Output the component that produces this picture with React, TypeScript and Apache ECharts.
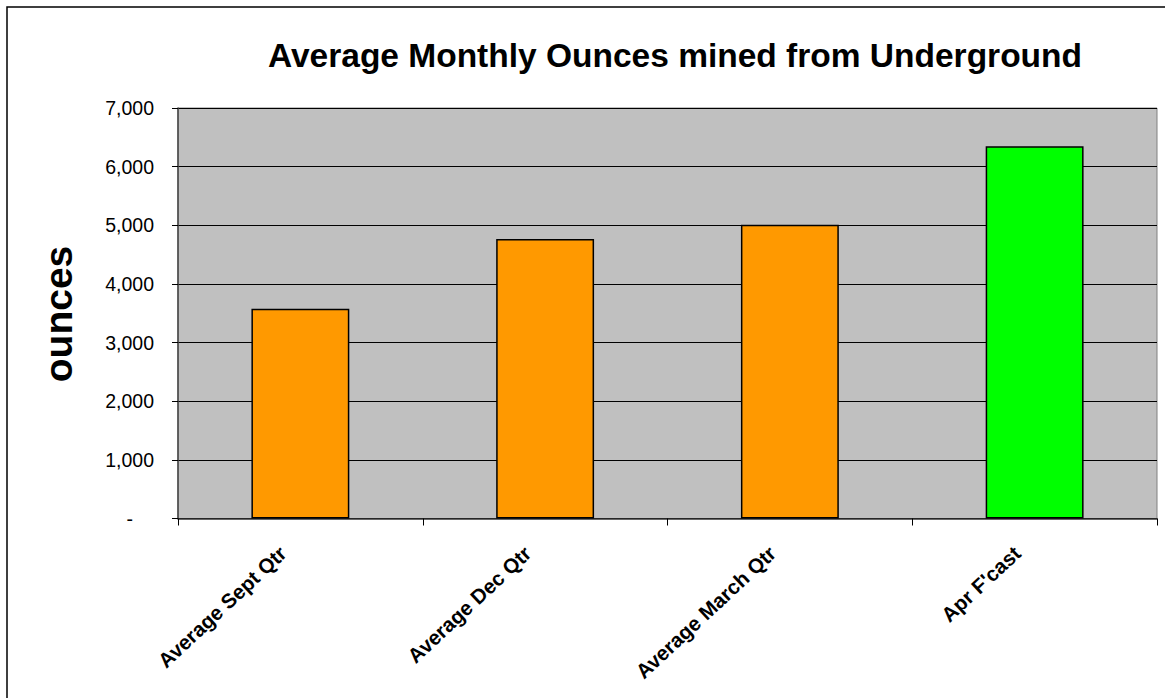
import React, { useEffect, useRef } from "react";
import * as echarts from "echarts";

const categories = ["Average Sept Qtr", "Average Dec Qtr", "Average March Qtr", "Apr F'cast"];
const ounces = [3577, 4765, 5010, 6348];
const barColors = ["#FF9900", "#FF9900", "#FF9900", "#00FF00"];
const titleText = "Average Monthly Ounces mined from Underground";
const yAxisTitle = "ounces";

export default function App() {
  const ref = useRef<HTMLDivElement>(null);
  useEffect(() => {
    if (!ref.current) return;
    const chart = echarts.init(ref.current, undefined, { renderer: "svg" });
    chart.setOption({
      animation: false,
      backgroundColor: "#FFFFFF",
      textStyle: { fontFamily: "Liberation Sans, Arial, sans-serif" },
      grid: {
        left: 178,
        right: 8,
        top: 108,
        bottom: 179.5,
        show: true,
        backgroundColor: "#C0C0C0",
        borderColor: "#808080",
        borderWidth: 1,
      },
      graphic: [
        {
          type: "rect",
          shape: { x: 7, y: 7, width: 1300, height: 900 },
          style: { fill: "none", stroke: "#000000", lineWidth: 1.5 },
          silent: true,
        },
        {
          type: "text",
          x: 675,
          y: 55.5,
          style: {
            text: titleText,
            fontSize: 33.5,
            fontWeight: "bold",
            fontFamily: "Liberation Sans, Arial, sans-serif",
            fill: "#000",
            textAlign: "center",
            textVerticalAlign: "middle",
          },
        },
        {
          type: "text",
          x: 58,
          y: 314,
          rotation: Math.PI / 2,
          style: {
            text: yAxisTitle,
            fontSize: 39,
            fontWeight: "bold",
            fontFamily: "Liberation Sans, Arial, sans-serif",
            fill: "#000",
            textAlign: "center",
            textVerticalAlign: "middle",
          },
        },
      ],
      xAxis: {
        type: "category",
        data: categories,
        boundaryGap: true,
        axisLine: { lineStyle: { color: "#333", width: 1.5 } },
        axisTick: { show: true, alignWithLabel: false, length: 7, lineStyle: { color: "#000", width: 1 } },
        axisLabel: {
          rotate: 43,
          interval: 0,
          margin: 15,
          fontSize: 20.5,
          fontWeight: "bold",
          color: "#000",
          padding: [0, 24, 0, 0],
        },
        splitLine: { show: false },
      },
      yAxis: {
        type: "value",
        min: 0,
        max: 7000,
        interval: 1000,
        axisLine: { show: true, lineStyle: { color: "#444", width: 1.5 } },
        axisTick: { show: true, length: 6, lineStyle: { color: "#000", width: 1 } },
        axisLabel: {
          margin: 24,
          fontSize: 19.5,
          color: "#000",
          formatter: (v: number) => (v === 0 ? "{d|-}" : v.toLocaleString("en-US")),
          rich: { d: { fontSize: 19.5, color: "#000", padding: [0, 21, 0, 0] } },
        },
        splitLine: { show: true, lineStyle: { color: "#000", width: 1 } },
      },
      series: [
        {
          type: "bar",
          data: ounces.map((v, i) => ({ value: v, itemStyle: { color: barColors[i] } })),
          barWidth: "40%",
          itemStyle: { borderColor: "#000", borderWidth: 1.5 },
        },
      ],
    });
    return () => chart.dispose();
  }, []);
  return (
    <div
      ref={ref}
      style={{ position: "absolute", left: 0, top: 0, width: 1165, height: 698 }}
    />
  );
}
